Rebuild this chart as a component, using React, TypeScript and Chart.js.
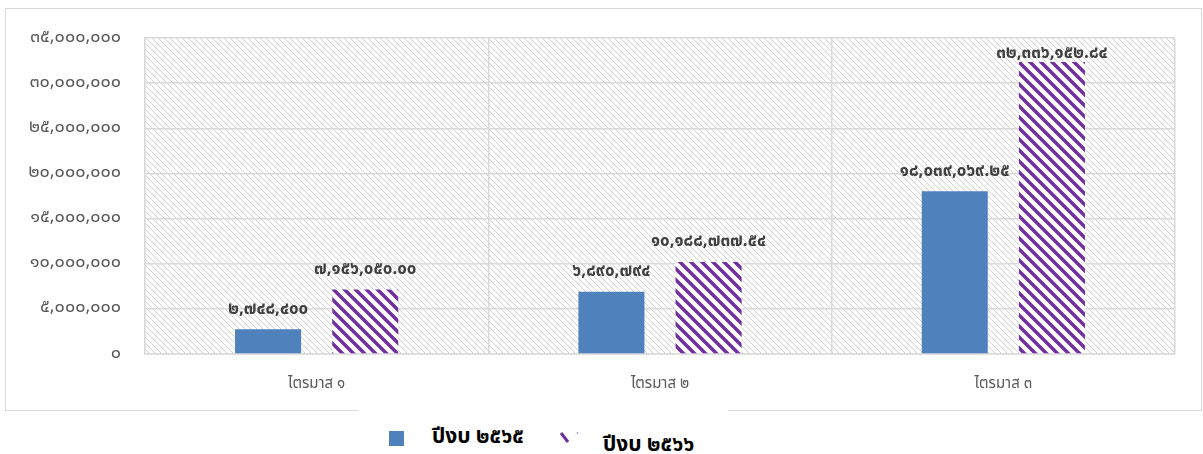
import React, { useEffect, useRef } from "react";
import { Chart, registerables } from "chart.js";

Chart.register(...registerables);

const categories = ["ไตรมาส ๑", "ไตรมาส ๒", "ไตรมาส ๓"];
const series2565 = [2748400, 6890794, 18039069.25];
const series2566 = [7156050.0, 10188737.54, 32336152.84];
const labels2565 = ["๒,๗๔๘,๔๐๐", "๖,๘๙๐,๗๙๔", "๑๘,๐๓๙,๐๖๙.๒๕"];
const labels2566 = ["๗,๑๕๖,๐๕๐.๐๐", "๑๐,๑๘๘,๗๓๗.๕๔", "๓๒,๓๓๖,๑๕๒.๘๔"];
const seriesNames = ["ปีงบ ๒๕๖๕", "ปีงบ ๒๕๖๖"];
const yMin = 0;
const yMax = 35000000;
const yStep = 5000000;

const FONT = "'Noto Sans Thai', Tahoma, 'DejaVu Sans', sans-serif";
const THAI_DIGITS = "๐๑๒๓๔๕๖๗๘๙";
const toThai = (n: number) =>
  n.toLocaleString("en-US").replace(/\d/g, (d) => THAI_DIGITS[+d]);

function makeBgPattern(ctx: CanvasRenderingContext2D) {
  const s = 6;
  const c = document.createElement("canvas");
  c.width = s;
  c.height = s;
  const g = c.getContext("2d")!;
  g.fillStyle = "#ffffff";
  g.fillRect(0, 0, s, s);
  g.strokeStyle = "#d2d2d2";
  g.lineWidth = 1;
  g.beginPath();
  g.moveTo(-1, -1);
  g.lineTo(s + 1, s + 1);
  g.moveTo(-1, s - 1);
  g.lineTo(1, s + 1);
  g.moveTo(s - 1, -1);
  g.lineTo(s + 1, 1);
  g.stroke();
  return ctx.createPattern(c, "repeat")!;
}

function makeBarPattern(ctx: CanvasRenderingContext2D) {
  const s = 11;
  const c = document.createElement("canvas");
  c.width = s;
  c.height = s;
  const g = c.getContext("2d")!;
  g.fillStyle = "#ffffff";
  g.fillRect(0, 0, s, s);
  g.strokeStyle = "#7030a0";
  g.lineWidth = 3.5;
  g.beginPath();
  g.moveTo(-2, -2);
  g.lineTo(s + 2, s + 2);
  g.moveTo(-2, s - 2);
  g.lineTo(2, s + 2);
  g.moveTo(s - 2, -2);
  g.lineTo(s + 2, 2);
  g.stroke();
  return ctx.createPattern(c, "repeat")!;
}

export default function App() {
  const ref = useRef<HTMLCanvasElement | null>(null);
  const iconRef = useRef<HTMLCanvasElement | null>(null);

  useEffect(() => {
    const canvas = ref.current!;
    const ctx = canvas.getContext("2d")!;
    const bgPattern = makeBgPattern(ctx);
    const barPattern = makeBarPattern(ctx);

    const ic = iconRef.current;
    if (ic) {
      const ictx = ic.getContext("2d")!;
      ictx.clearRect(0, 0, ic.width, ic.height);
      ictx.strokeStyle = "#7030a0";
      ictx.lineWidth = 3;
      ictx.beginPath();
      ictx.moveTo(3, 3);
      ictx.lineTo(10, 12);
      ictx.stroke();
      ictx.strokeStyle = "#b9a0cc";
      ictx.lineWidth = 1.5;
      ictx.beginPath();
      ictx.moveTo(19, 2);
      ictx.lineTo(20, 4);
      ictx.stroke();
    }

    const bgPlugin = {
      id: "hatchBg",
      beforeDraw(chart: any) {
        const { ctx: c, chartArea: a } = chart;
        c.save();
        c.fillStyle = bgPattern;
        c.fillRect(a.left, a.top, a.right - a.left, a.bottom - a.top);
        c.restore();
      },
    };

    const labelPlugin = {
      id: "valueLabels",
      afterDatasetsDraw(chart: any) {
        const c = chart.ctx;
        const top = chart.chartArea.top;
        c.save();
        c.font = `bold 17px ${FONT}`;
        c.fillStyle = "#404040";
        c.textAlign = "center";
        c.textBaseline = "middle";
        const texts = [labels2565, labels2566];
        chart.data.datasets.forEach((_: any, di: number) => {
          const meta = chart.getDatasetMeta(di);
          meta.data.forEach((bar: any, i: number) => {
            const y = Math.max(bar.y - 19, top + 17);
            c.fillText(texts[di][i], bar.x, y);
          });
        });
        c.restore();
      },
    };

    const chart = new Chart(canvas, {
      type: "bar",
      data: {
        labels: categories,
        datasets: [
          {
            label: seriesNames[0],
            data: series2565,
            backgroundColor: "#4f81bd",
            borderWidth: 0,
            categoryPercentage: 0.566,
            barPercentage: 0.68,
          },
          {
            label: seriesNames[1],
            data: series2566,
            backgroundColor: barPattern as any,
            borderWidth: 0,
            categoryPercentage: 0.566,
            barPercentage: 0.68,
          },
        ],
      },
      options: {
        responsive: false,
        animation: false,
        layout: { padding: { left: 0, right: 28, top: 38, bottom: 0 } },
        plugins: {
          legend: { display: false },
          tooltip: { enabled: false },
        },
        scales: {
          x: {
            grid: {
              offset: true,
              color: "#d9d9d9",
              lineWidth: 1.5,
              drawTicks: false,
            },
            border: { display: true, color: "#d9d9d9", width: 1.5 },
            ticks: {
              color: "#595959",
              font: { family: FONT, size: 15 },
              padding: 22,
            },
            afterFit(scale: any) {
              scale.height = 100;
            },
          },
          y: {
            min: yMin,
            max: yMax,
            grid: { color: "#d9d9d9", lineWidth: 1.5, drawTicks: false },
            border: { display: true, color: "#d9d9d9", width: 1.5 },
            ticks: {
              stepSize: yStep,
              color: "#595959",
              font: { family: FONT, size: 18 },
              padding: 24,
              callback: (v: any) => toThai(Number(v)),
            },
            afterFit(scale: any) {
              scale.width = 145;
              scale.paddingTop = 0;
              scale.paddingBottom = 0;
            },
          },
        },
      },
      plugins: [bgPlugin, labelPlugin],
    });

    return () => chart.destroy();
  }, []);

  return (
    <div
      style={{
        position: "absolute",
        left: 0,
        top: 0,
        width: 1203,
        height: 454,
        background: "#ffffff",
        overflow: "hidden",
        fontFamily: FONT,
      }}
    >
      <div
        style={{
          position: "absolute",
          left: 5,
          top: 8,
          width: 1195,
          height: 401,
          border: "1.5px solid #d9d9d9",
        }}
      />
      <canvas
        ref={ref}
        width={1203}
        height={454}
        style={{ position: "absolute", left: 0, top: 0, width: 1203, height: 454 }}
      />
      <div
        style={{
          position: "absolute",
          left: 358,
          top: 408,
          width: 370,
          height: 46,
          background: "#ffffff",
        }}
      />
      <div
        style={{
          position: "absolute",
          left: 389,
          top: 431,
          width: 15,
          height: 15,
          background: "#4f81bd",
        }}
      />
      <div
        style={{
          position: "absolute",
          left: 432,
          top: 425,
          fontWeight: "bold",
          fontSize: 21,
          lineHeight: "24px",
          color: "#000000",
          whiteSpace: "nowrap",
        }}
      >
        {seriesNames[0]}
      </div>
      <canvas
        ref={iconRef}
        width={22}
        height={15}
        style={{ position: "absolute", left: 558, top: 430, width: 22, height: 15 }}
      />
      <div
        style={{
          position: "absolute",
          left: 603,
          top: 433,
          fontWeight: "bold",
          fontSize: 21,
          lineHeight: "24px",
          color: "#000000",
          whiteSpace: "nowrap",
        }}
      >
        {seriesNames[1]}
      </div>
    </div>
  );
}
